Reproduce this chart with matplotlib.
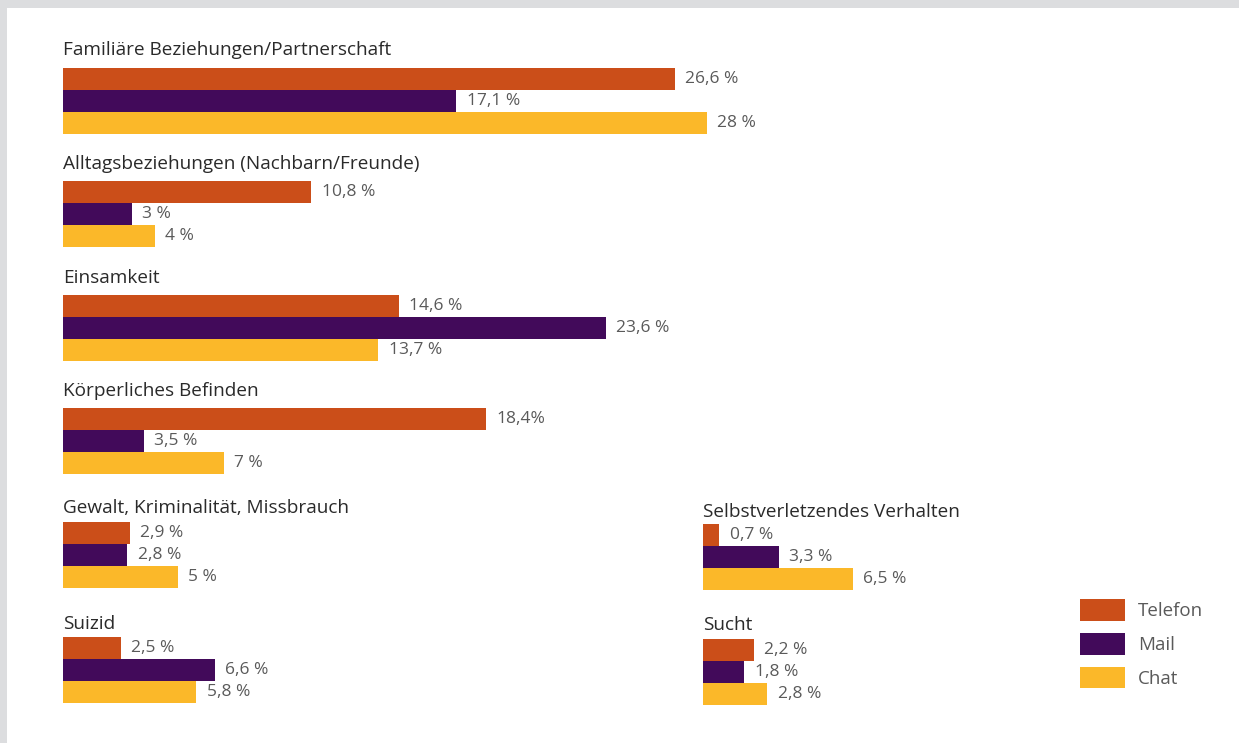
import numpy as np
import matplotlib.pyplot as plt
from matplotlib.patches import Rectangle, Patch

plt.rcParams['font.family'] = ['Open Sans', 'DejaVu Sans']

kanaele = ["Telefon", "Mail", "Chat"]
farben = ["#CB4E19", "#420A5A", "#FBB829"]

themen = ["Familiäre Beziehungen/Partnerschaft",
          "Alltagsbeziehungen (Nachbarn/Freunde)",
          "Einsamkeit",
          "Körperliches Befinden",
          "Gewalt, Kriminalität, Missbrauch",
          "Suizid",
          "Selbstverletzendes Verhalten",
          "Sucht"]

werte = [[26.6, 17.1, 28.0],
         [10.8, 3.0, 4.0],
         [14.6, 23.6, 13.7],
         [18.4, 3.5, 7.0],
         [2.9, 2.8, 5.0],
         [2.5, 6.6, 5.8],
         [0.7, 3.3, 6.5],
         [2.2, 1.8, 2.8]]

beschriftung = [["26,6 %", "17,1 %", "28 %"],
                ["10,8 %", "3 %", "4 %"],
                ["14,6 %", "23,6 %", "13,7 %"],
                ["18,4%", "3,5 %", "7 %"],
                ["2,9 %", "2,8 %", "5 %"],
                ["2,5 %", "6,6 %", "5,8 %"],
                ["0,7 %", "3,3 %", "6,5 %"],
                ["2,2 %", "1,8 %", "2,8 %"]]

# Lage der Gruppen in Pixeln (links, Oberkante der Balken, Abstand Titel)
lage = [(63, 68, 18), (63, 181, 17), (63, 295, 17), (63, 408, 17),
        (63, 522, 14), (63, 637, 13), (703, 524, 12), (703, 639, 14)]

W, H = 1239, 743
px_pro_prozent = 23.0
balken_px = 22.0

fig = plt.figure(figsize=(W / 100, H / 100), dpi=100)
fig.patch.set_facecolor("white")

# grauer Rahmen oben und links
fig.add_artist(Rectangle((0, 1 - 8 / H), 1, 8 / H, transform=fig.transFigure,
                         color="#DCDDDF", lw=0))
fig.add_artist(Rectangle((0, 0), 7 / W, 1, transform=fig.transFigure,
                         color="#DCDDDF", lw=0))

for k in range(len(themen)):
    x0, y0, abstand = lage[k]
    breite = 660
    hoehe = 3 * balken_px
    ax = fig.add_axes([x0 / W, 1 - (y0 + hoehe) / H, breite / W, hoehe / H])
    ax.set_xlim(0, breite / px_pro_prozent)
    ax.set_ylim(2.5, -0.5)
    ax.axis("off")
    y = np.arange(3)
    ax.barh(y, werte[k], height=1.0, color=farben, linewidth=0)
    for i in range(3):
        ax.annotate(beschriftung[k][i], (werte[k][i], y[i]), xytext=(7.5, 0),
                    textcoords="offset points", va="center", ha="left",
                    fontsize=12.5, color="#5A5A5A", annotation_clip=False)
    ax.annotate(themen[k], (0, -0.5), xytext=(0, abstand * 0.72),
                textcoords="offset points", va="center", ha="left",
                fontsize=13.7, color="#2A2A2A", annotation_clip=False)

handles = [Patch(facecolor=farben[i], edgecolor="none") for i in range(3)]
leg = fig.legend(handles, kanaele, loc="upper left",
                 bbox_to_anchor=(1080 / W, 1 - 599 / H), frameon=False,
                 borderaxespad=0, borderpad=0,
                 fontsize=13.5, handlelength=2.4, handleheight=1.4,
                 labelspacing=0.65, handletextpad=0.7)
for t in leg.get_texts():
    t.set_color("#5A5A5A")

plt.savefig("out.png", dpi=100)
